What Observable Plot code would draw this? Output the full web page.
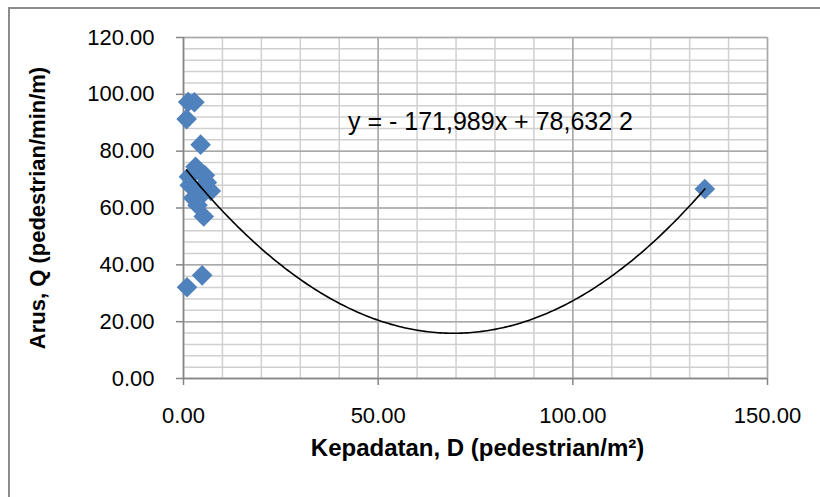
<!DOCTYPE html>
<html>
<head>
<meta charset="utf-8">
<script src="https://cdn.jsdelivr.net/npm/d3@7"></script>
<script src="https://cdn.jsdelivr.net/npm/@observablehq/plot@0.6"></script>
<style>
  html, body { margin: 0; padding: 0; background: #fff; }
  #wrap { position: relative; width: 820px; height: 497px; overflow: hidden; }
  #border { position: absolute; left: 8px; top: 7px; width: 830px; height: 520px;
            border: 2px solid #8c8c8c; box-sizing: border-box; pointer-events: none; }
</style>
</head>
<body>
<div id="wrap"><div id="border"></div></div>
<script>
// Data
const density = [1.2, 2.8, 0.8, 4.4, 3.1, 1.4, 2.2, 4.0, 5.5, 1.6, 3.0, 6.0, 7.0, 2.5, 4.6, 3.6, 5.2, 0.9, 4.8, 133.9];
const flow    = [97.3, 97.2, 91.3, 82.3, 74.5, 71.0, 72.0, 73.0, 71.5, 68.0, 66.5, 69.0, 66.0, 63.5, 64.5, 61.0, 57.0, 32.1, 36.3, 66.7];
// Polynomial (order 2) trendline coefficients: y = a x^2 + b x + c
const trendCoef = [0.0122, -1.693, 74.66];
const equationLabel = "y = - 171,989x + 78,632 2";
const xTicks = [0, 50, 100, 150];
const yTicks = [0, 20, 40, 60, 80, 100, 120];
const xMinor = d3.range(0, 151, 10);
const yMinor = d3.range(0, 121, 4);
const xTitle = "Kepadatan, D (pedestrian/m²)";
const yTitle = "Arus, Q (pedestrian/min/m)";

const points = density.map((d, i) => ({x: d, y: flow[i]}));
const [a, b, c] = trendCoef;
const xMin = d3.min(density), xMax = d3.max(density);
const trend = d3.range(0, 201).map(i => {
  const x = xMin + (xMax - xMin) * i / 200;
  return {x, y: a * x * x + b * x + c};
});

const fmt = d3.format(".2f");
const font = "'Liberation Sans', Arial, sans-serif";

const chart = Plot.plot({
  width: 820,
  height: 497,
  marginLeft: 183,
  marginRight: 53,
  marginTop: 37,
  marginBottom: 119,
  style: {fontFamily: font, fontSize: "22px", background: "transparent", overflow: "visible"},
  x: {domain: [0, 150]},
  y: {domain: [0, 120]},
  marks: [
    Plot.gridX(xMinor, {stroke: "#d0d0d0", strokeOpacity: 1, strokeWidth: 1.5}),
    Plot.gridY(yMinor, {stroke: "#d0d0d0", strokeOpacity: 1, strokeWidth: 1.5}),
    Plot.gridX(xTicks, {stroke: "#a8a8a8", strokeOpacity: 1, strokeWidth: 1.5}),
    Plot.gridY(yTicks, {stroke: "#a8a8a8", strokeOpacity: 1, strokeWidth: 1.5}),
    Plot.ruleX([0], {stroke: "#868686", strokeWidth: 1.5}),
    Plot.ruleY([0], {stroke: "#868686", strokeWidth: 1.5}),
    Plot.axisX(xTicks, {tickFormat: fmt, tickSize: 7, tickPadding: 22, stroke: "#868686", strokeWidth: 1.5, fill: "#000", fontSize: 22, label: null}),
    Plot.axisY(yTicks, {tickFormat: fmt, tickSize: 7, tickPadding: 22, stroke: "#868686", strokeWidth: 1.5, fill: "#000", fontSize: 22, label: null}),
    Plot.dot(points, {x: "x", y: "y", symbol: "diamond2", r: 9.3, fill: "#4f81bd", stroke: "none"}),
    Plot.line(trend, {x: "x", y: "y", stroke: "#000", strokeWidth: 1.6, curve: "linear"}),
    Plot.text([equationLabel], {frameAnchor: "top", dx: 15, dy: 75, fontSize: 25, fill: "#000"}),
    Plot.text([xTitle], {frameAnchor: "bottom", dx: 2, dy: 77, fontSize: 24, fontWeight: "bold", fill: "#000"}),
    Plot.text([yTitle], {frameAnchor: "left", textAnchor: "middle", dx: -146, rotate: -90, fontSize: 22, fontWeight: "bold", fill: "#000"})
  ]
});
document.getElementById("wrap").prepend(chart);
</script>
</body>
</html>
